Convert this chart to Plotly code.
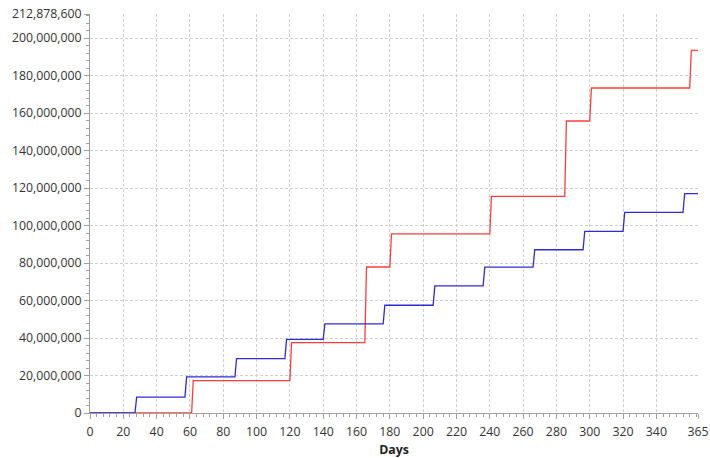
import plotly.graph_objects as go

# Data (days, cumulative values)
blue_days = [0, 27, 28, 57, 58, 87, 88, 117, 118, 140, 141, 176, 177, 206, 207,
             236, 237, 266, 267, 296, 297, 320, 321, 356, 357, 365]
blue_vals = [0, 0, 8.5e6, 8.5e6, 19.3e6, 19.3e6, 29.0e6, 29.0e6, 39.3e6, 39.3e6,
             47.6e6, 47.6e6, 57.5e6, 57.5e6, 67.8e6, 67.8e6, 77.8e6, 77.8e6,
             87.1e6, 87.1e6, 96.9e6, 96.9e6, 107.0e6, 107.0e6, 117.0e6, 117.0e6]

red_days = [0, 61, 62, 120, 121, 165, 166, 180, 181, 240, 241, 285, 286, 300, 301,
            360, 361, 365]
red_vals = [0, 0, 17.3e6, 17.3e6, 37.5e6, 37.5e6, 77.9e6, 77.9e6, 95.6e6, 95.6e6,
            115.6e6, 115.6e6, 155.8e6, 155.8e6, 173.4e6, 173.4e6, 193.5e6, 193.5e6]

x_ticks = [0, 20, 40, 60, 80, 100, 120, 140, 160, 180, 200, 220, 240, 260, 280,
           300, 320, 340, 365]
y_max = 212878600
y_ticks = [0, 20e6, 40e6, 60e6, 80e6, 100e6, 120e6, 140e6, 160e6, 180e6, 200e6, y_max]
y_labels = ["0" if v == 0 else f"{int(v):,}" for v in y_ticks]

fig = go.Figure()
fig.add_trace(go.Scatter(x=red_days, y=red_vals, mode="lines",
                         line=dict(color="rgb(255,60,60)", width=1.3),
                         showlegend=False, hoverinfo="skip"))
fig.add_trace(go.Scatter(x=blue_days, y=blue_vals, mode="lines",
                         line=dict(color="rgb(45,45,215)", width=1.3),
                         showlegend=False, hoverinfo="skip"))

font = dict(family="Open Sans, Noto Sans, sans-serif", size=12.3, color="#333333")
grid = dict(showgrid=True, gridcolor="#cfcfcf", gridwidth=1, griddash="3px,2px",
            zeroline=False, showline=True, linecolor="#a0a0a0", linewidth=1,
            ticks="outside", ticklen=5, tickcolor="#a0a0a0", tickfont=font,
            automargin=False)

fig.update_layout(
    width=710, height=458,
    margin=dict(l=90, r=12, t=14, b=45),
    paper_bgcolor="white", plot_bgcolor="white",
    font=font,
    xaxis=dict(range=[0, 365], tickmode="array", tickvals=x_ticks,
               ticktext=[str(v) for v in x_ticks], ticklabelstandoff=2,
               minor=dict(tick0=0, dtick=4, ticklen=3, ticks="outside",
                          tickcolor="#a0a0a0", showgrid=False),
               title=dict(text="<b>Days</b>", font=dict(family="Open Sans, Noto Sans, sans-serif",
                                                       size=12.3, color="#222222"), standoff=6),
               **grid),
    yaxis=dict(range=[0, y_max], tickmode="array", tickvals=y_ticks, ticktext=y_labels,
               minor=dict(tick0=0, dtick=4e6, ticklen=3, ticks="outside",
                          tickcolor="#a0a0a0", showgrid=False),
               **grid),
)

fig.write_html("out.html", config={"displayModeBar": False},
               post_script="document.body.style.margin='0';")
